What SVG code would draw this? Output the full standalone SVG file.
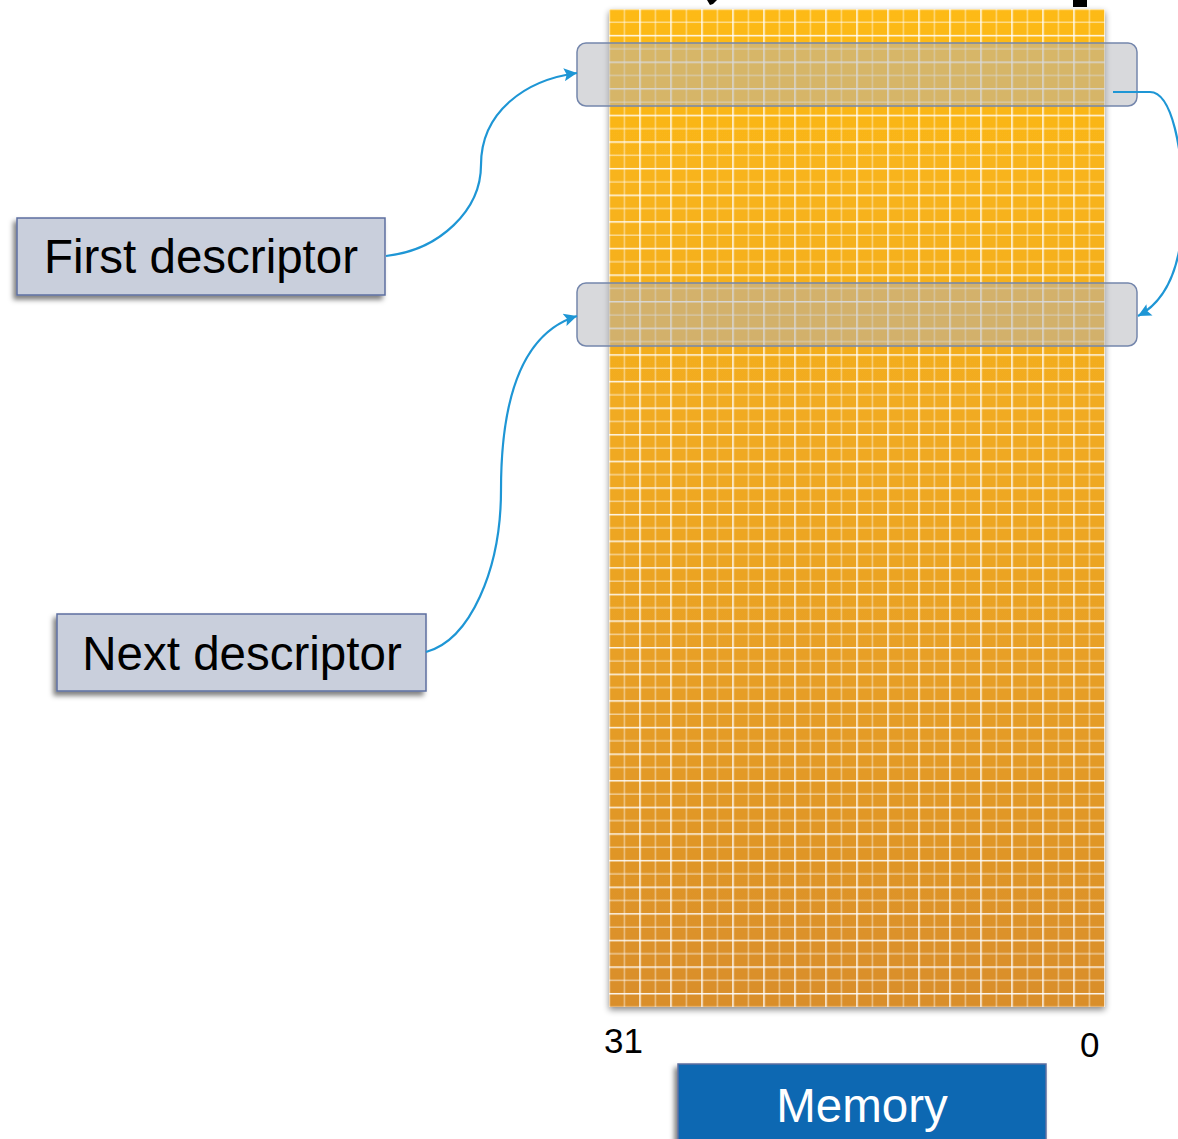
<svg xmlns="http://www.w3.org/2000/svg" width="1178" height="1139" viewBox="0 0 1178 1139">
<style>
.lbl{fill:#C9CFDC;stroke:#5D6FA0;stroke-width:1.5}
.txt{font-family:"Liberation Sans",Arial,sans-serif;fill:#000}
.bar{fill:#B1B3B9;fill-opacity:0.5;stroke:#7486AC;stroke-width:1.5}
.conn{fill:none;stroke:#1E96D5;stroke-width:2.2}
</style>
<defs>
<linearGradient id="memg" x1="0" y1="0" x2="0" y2="1">
<stop offset="0" stop-color="#FDBA16"/>
<stop offset="0.5" stop-color="#EEA723"/>
<stop offset="1" stop-color="#D98E2A"/>
</linearGradient>
<pattern id="grid" patternUnits="userSpaceOnUse" x="601.25" y="2.35" width="31" height="26.614">
<rect x="7" y="0" width="1.5" height="26.614" fill="#FFFFFF" fill-opacity="0.95"/>
<rect x="22.5" y="0" width="1.5" height="26.614" fill="#FFFFFF" fill-opacity="0.45"/>
<rect x="0" y="5.9" width="31" height="1.5" fill="#FFFFFF" fill-opacity="0.9"/>
<rect x="0" y="19.2" width="31" height="1.5" fill="#FFFFFF" fill-opacity="0.5"/>
</pattern>
<filter id="sh" x="-10%" y="-10%" width="120%" height="120%">
<feDropShadow dx="0" dy="3" stdDeviation="3" flood-color="#000" flood-opacity="0.45"/>
</filter>
<filter id="sh2" x="-10%" y="-20%" width="120%" height="150%">
<feDropShadow dx="-3" dy="4" stdDeviation="2.5" flood-color="#000" flood-opacity="0.5"/>
</filter>
<marker id="ah" viewBox="0 0 10 10" refX="10" refY="5" markerWidth="15" markerHeight="13" orient="auto" markerUnits="userSpaceOnUse">
<path d="M0,0 L10,5 L0,10 L2,5 z" fill="#1E96D5"/>
</marker>
</defs>
<rect width="1178" height="1139" fill="#FFFFFF"/>
<g id="title-fragments">
<polygon points="707,0 717,0 713,4 710,5" fill="#000"/>
<rect x="1073" y="0" width="14" height="7" fill="#000"/>
</g>
<g id="memory">
<rect x="609" y="9" width="496" height="998" fill="url(#memg)" filter="url(#sh)"/>
<rect x="609" y="9" width="496" height="998" fill="url(#grid)"/>
</g>
<g id="descriptor-first-slot">
<rect class="bar" x="577" y="43" width="560" height="63" rx="9"/>
</g>
<g id="descriptor-next-slot">
<rect class="bar" x="577" y="283" width="560" height="63" rx="9"/>
</g>
<g id="first-descriptor">
<rect class="lbl" x="17" y="218" width="368" height="77" filter="url(#sh2)"/>
<text class="txt" x="201" y="273" font-size="47.5" text-anchor="middle">First descriptor</text>
</g>
<g id="next-descriptor">
<rect class="lbl" x="57" y="614" width="369" height="77" filter="url(#sh2)"/>
<text class="txt" x="242" y="670" font-size="47.5" text-anchor="middle">Next descriptor</text>
</g>
<g id="bit-labels">
<text class="txt" x="604" y="1053" font-size="35">31</text>
<text class="txt" x="1080" y="1057" font-size="35">0</text>
</g>
<g id="memory-label">
<rect x="678" y="1064" width="368" height="80" fill="#0B67B2" stroke="#5D6FA0" stroke-width="1.5" filter="url(#sh2)"/>
<text x="862" y="1122" font-size="47.5" text-anchor="middle" font-family="'Liberation Sans',Arial,sans-serif" fill="#FFFFFF">Memory</text>
</g>
<g id="connectors">
<path class="conn" d="M386,256 C440,250 481,210 481,165 C481,112 525,80 577,73" marker-end="url(#ah)"/>
<path class="conn" d="M426,652 C470,640 501,570 501,490 C501,400 522,333 577,316" marker-end="url(#ah)"/>
<path class="conn" d="M1113,92 L1150,92 C1172,92 1183,150 1183,205 C1183,262 1168,300 1138,316" marker-end="url(#ah)"/>
</g>
</svg>
